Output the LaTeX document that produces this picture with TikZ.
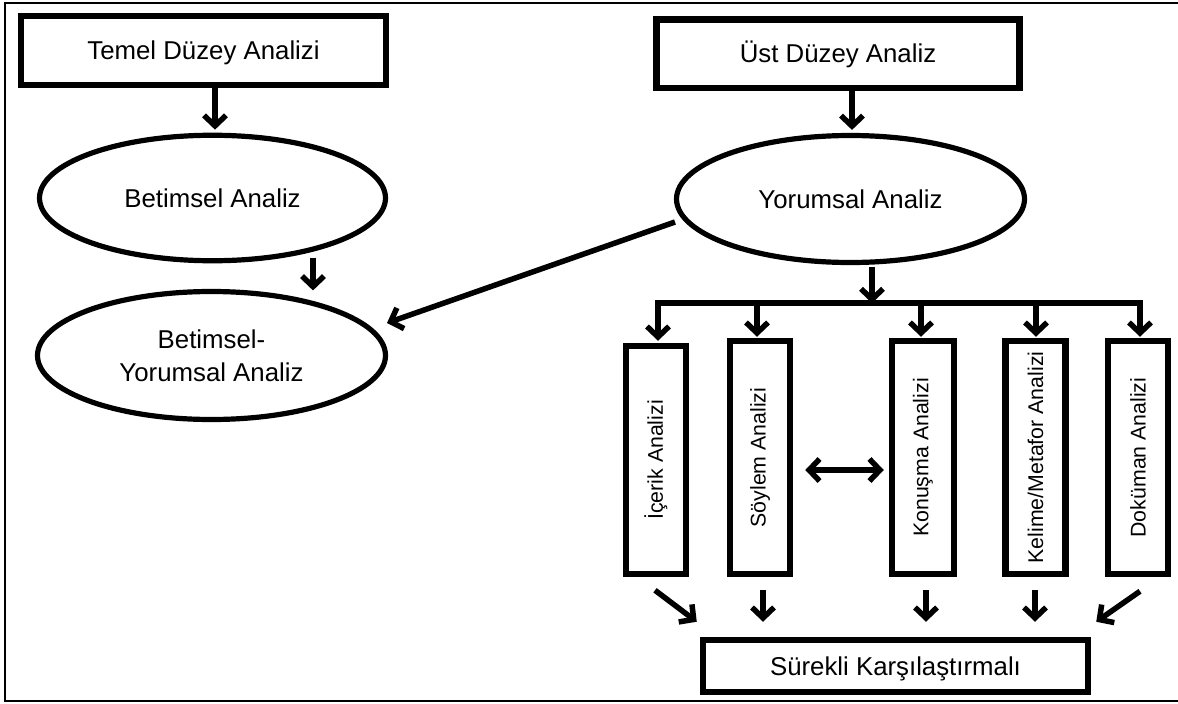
\documentclass[tikz,border=0pt]{standalone}
\usepackage{fontspec}
\setmainfont{Liberation Sans}
\usetikzlibrary{arrows.meta,shapes.geometric,calc}
\begin{document}
\begin{tikzpicture}[x=1pt,y=-1pt,
  hfont/.style={font=\fontsize{25.8}{32.7}\selectfont},
  box/.style={draw, line width=6.5pt, rectangle, inner sep=0pt, hfont,
              text height=18.5pt, text depth=0pt},
  oval/.style={draw, line width=5.2pt, ellipse, inner sep=0pt, align=center, hfont},
  vbox/.style={draw, line width=6.5pt, rectangle, inner sep=0pt, minimum width=60pt},
  vtext/.style={rotate=90, inner sep=0pt, font=\fontsize{21.3}{24}\selectfont},
  link/.style={line width=5.5pt},
  arr/.style={link, -{Straight Barb[length=10.5pt,width=22pt]}},
  darr/.style={link, {Straight Barb[length=10.5pt,width=22pt]}-{Straight Barb[length=10.5pt,width=22pt]}},
]
\useasboundingbox (0,0) rectangle (1178,704);

% outer frame
\draw[line width=1.5pt] (1178,3) -- (5,3) -- (5,701) -- (1178,701);

% level headings
\node[box, minimum width=365pt, minimum height=69pt] (temel) at (203.5,50.5) {Temel Düzey Analizi};
\node[box, minimum width=363pt, minimum height=68.5pt] (ust) at (838,53.5) {Üst Düzey Analiz};

% analysis ellipses
\node[oval, minimum width=346pt, minimum height=125.5pt] (betimsel) at (212.5,198) {Betimsel Analiz};
\node[oval, minimum width=348pt, minimum height=128pt] (by) at (211.5,355.5) {Betimsel-\\Yorumsal Analiz};
\node[oval, minimum width=348pt, minimum height=127pt] (yorumsal) at (850.5,199) {Yorumsal Analiz};

% analysis methods
\node[vbox, minimum height=228pt] (icerik)  at (656,460)    {};
\node[vbox, minimum height=233pt] (soylem)  at (760,457.5)  {};
\node[vbox, minimum height=233pt, minimum width=62pt] (konusma) at (923,457.5) {};
\node[vbox, minimum height=233pt] (kelime)  at (1035.5,457.5) {};
\node[vbox, minimum height=233pt] (dokuman) at (1138,457.5) {};
\node[vtext] (icerik-t)  at (icerik)  {İçerik Analizi};
\node[vtext] (soylem-t)  at (soylem)  {Söylem Analizi};
\node[vtext] (konusma-t) at (konusma) {Konuşma Analizi};
\node[vtext] (kelime-t)  at (kelime)  {Kelime/Metafor Analizi};
\node[vtext] (dokuman-t) at (dokuman) {Doküman Analizi};

% final step
\node[box, minimum width=385pt, minimum height=52pt] (surekli) at (895.5,666) {Sürekli Karşılaştırmalı};

% top arrows
\draw[arr, shorten >=3pt] ($(betimsel.north |- temel.south)+(2.5,0)$) -- ($(betimsel.north)+(2.5,0)$);
\draw[arr, shorten >=3pt] ($(yorumsal.north |- ust.south)+(1.5,0)$) -- ($(yorumsal.north)+(1.5,0)$);
\draw[arr] ($(betimsel.south)+(100.5,-5.7)$) -- ($(by.north)+(101.5,1.5)$);
\draw[arr] ($(yorumsal.center)+(-175.5,23)$) -- ($(by.center)+(175.5,-32.5)$);

% branching to the methods
\coordinate (jn) at ($(yorumsal.south)+(21.5,38)$);
\draw[arr] ($(yorumsal.south)+(21.5,2)$) -- (jn);
\draw[link, line cap=rect] ($(icerik.north |- jn)+(2,0)$) -- ($(dokuman.north |- jn)+(2,0)$);
\draw[arr, shorten >=2pt] ($(icerik.north |- jn)+(2,0)$) -- ($(icerik.north)+(2,0)$);
\draw[arr, shorten >=1pt] ($(soylem.north |- jn)+(-3,0)$) -- ($(soylem.north)+(-3,0)$);
\draw[arr, shorten >=1pt] ($(konusma.north |- jn)+(-2,0)$) -- ($(konusma.north)+(-2,0)$);
\draw[arr, shorten >=1pt] ($(kelime.north |- jn)+(0.5,0)$) -- ($(kelime.north)+(0.5,0)$);
\draw[arr, shorten >=1pt] ($(dokuman.north |- jn)+(2,0)$) -- ($(dokuman.north)+(2,0)$);

% link between discourse and conversation analysis
\draw[darr] ($(soylem.east)+(12,12.5)$) -- ($(konusma.west)+(-5,12.5)$);

% arrows into the final step
\draw[arr] ($(icerik.south)+(-1,13)$) -- ($(surekli.north west)+(-3,-15)$);
\draw[arr] ($(soylem.south)+(3,13)$) -- ($(soylem.south |- surekli.north)+(3,-15)$);
\draw[arr] ($(konusma.south)+(3,13)$) -- ($(konusma.south |- surekli.north)+(3,-15)$);
\draw[arr] ($(kelime.south)+(-0.5,13)$) -- ($(kelime.south |- surekli.north)+(-0.5,-15)$);
\draw[arr] ($(dokuman.south)+(2,14)$) -- ($(surekli.north east)+(5,-15)$);
\end{tikzpicture}
\end{document}
